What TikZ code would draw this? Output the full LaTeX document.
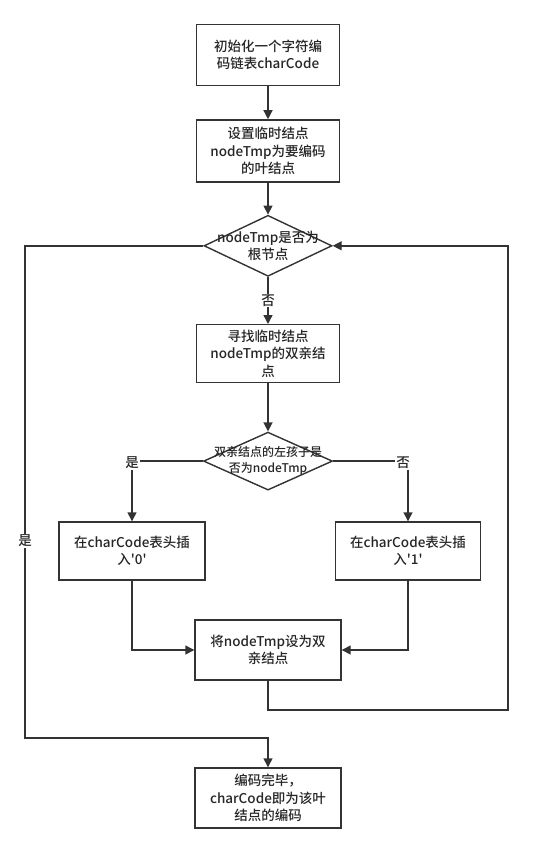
\documentclass[tikz,border=0pt]{standalone}
\usepackage{fontspec}
\setmainfont{Noto Sans CJK SC}[UprightFont=* Medium]
\usepackage{xcolor}
\usetikzlibrary{arrows.meta,positioning,shapes.geometric}
\definecolor{ln}{HTML}{333333}

\begin{document}
\begin{tikzpicture}[x=1pt, y=-1pt,
  font=\fontsize{13.5}{17.5}\selectfont,
  box/.style={draw=ln, line width=1.4pt, align=center, minimum width=143pt, minimum height=60pt, inner sep=2pt, text=black!85},
  dec/.style={draw=ln, line width=1.4pt, diamond, minimum width=128pt, minimum height=60pt, inner sep=0pt},
  dectext/.style={align=center, text=black!85, inner sep=0pt},
  arr/.style={-{Triangle[length=9pt, width=9pt]}, line width=1.4pt, draw=ln},
  lab/.style={fill=white, inner sep=1pt, text=black!85}]
\useasboundingbox (0,0) rectangle (533,851);
\node[box, minimum height=61pt] (init) at (268,55) {初始化一个字符编\\码链表charCode};
\node[box, minimum height=62pt, below=33pt of init] (leaf) {设置临时结点\\nodeTmp为要编码\\的叶结点};
\node[dec, minimum height=61pt, below=32pt of leaf, label={[dectext]center:{nodeTmp是否为\\根节点}}] (root) {};
\node[box, minimum height=58pt, below=47pt of root] (parent) {寻找临时结点\\nodeTmp的双亲结\\点};
\node[dec, minimum width=129pt, minimum height=58pt, below=48pt of parent, label={[dectext, font=\fontsize{12}{16}\selectfont]center:{双亲结点的左孩子是\\否为nodeTmp}}] (lchk) {};
\node[box, minimum width=146pt, minimum height=58pt] (ins0) at (132,551) {在charCode表头插\\入\textquotesingle0\textquotesingle};
\node[box, minimum width=145pt, minimum height=58pt] (ins1) at (408,551) {在charCode表头插\\入\textquotesingle1\textquotesingle};
\node[box, minimum width=146pt] (setp) at (268,650) {将nodeTmp设为双\\亲结点};
\node[box, minimum width=146pt] (done) at (268,798) {编码完毕，\\charCode即为该叶\\结点的编码};
\coordinate (back) at (508,710);
\coordinate (yesl) at (25,738);
% main column
\draw[arr] (init) -- (leaf);
\draw[arr] (leaf) -- (root);
\draw[arr] (root.south) -- node[lab] {否} (parent.north);
\draw[arr] (parent) -- (lchk);
% left / right child
\draw[arr] (lchk.west) -| node[lab, pos=0.5, yshift=-2pt] {是} (ins0.north);
\draw[arr] (lchk.east) -| node[lab, pos=0.5, yshift=-2pt, xshift=-5pt] {否} (ins1.north);
\draw[arr] (ins0.south) |- (setp.west);
\draw[arr] (ins1.south) |- (setp.east);
% loop back and exit
\draw[arr] (setp.south) |- (back) |- (root.east);
\draw[arr] (root.west) -| node[lab, pos=0.8] {是} (yesl) -| (done.north);
\end{tikzpicture}
\end{document}
